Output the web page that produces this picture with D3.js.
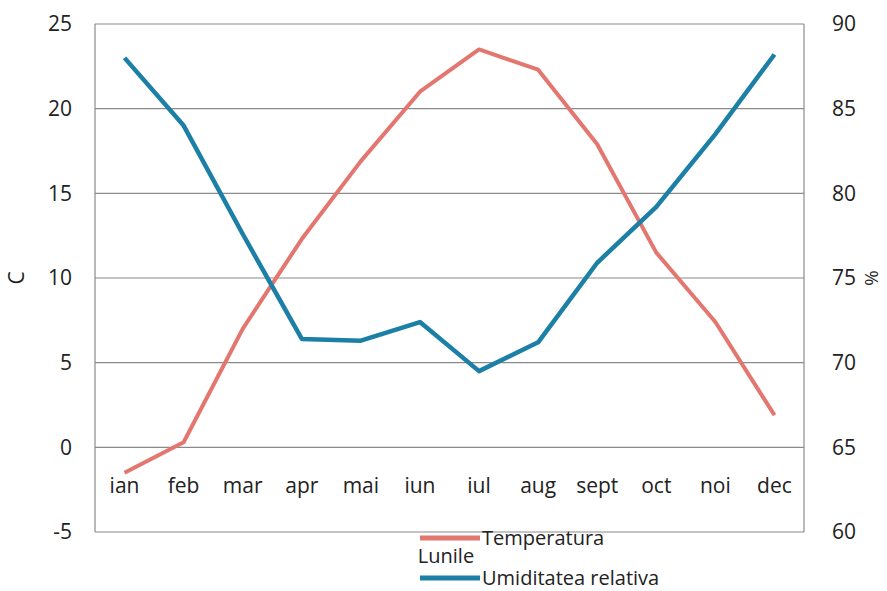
<!DOCTYPE html>
<html>
<head>
<meta charset="utf-8">
<script src="https://cdn.jsdelivr.net/npm/d3@7"></script>
<style>
  body { margin: 0; background: #fff; }
  svg text { font-family: "Open Sans", "Liberation Sans", sans-serif; fill: #222; }
</style>
</head>
<body>
<div id="chart"></div>
<script>
// data
const months = ["ian", "feb", "mar", "apr", "mai", "iun", "iul", "aug", "sept", "oct", "noi", "dec"];
const temperatura = [-1.5, 0.3, 7.0, 12.3, 16.9, 21.0, 23.5, 22.3, 17.9, 11.5, 7.4, 1.9];
const umiditate = [88.0, 84.0, 77.6, 71.4, 71.3, 72.4, 69.5, 71.2, 75.9, 79.2, 83.5, 88.2];
const leftTicks = [-5, 0, 5, 10, 15, 20, 25];
const rightTicks = [60, 65, 70, 75, 80, 85, 90];

const width = 887, height = 591;
const plot = {left: 95, right: 804, top: 24, bottom: 532};

const svg = d3.select("#chart")
    .append("svg")
    .attr("width", width)
    .attr("height", height);

let x = d3.scaleBand()
    .domain(months)
    .range([plot.left, plot.right]);

let yL = d3.scaleLinear().domain([-5, 25]).range([plot.bottom, plot.top]);
let yR = d3.scaleLinear().domain([60, 90]).range([plot.bottom, plot.top]);

// gridlines
svg.append("g")
    .selectAll("line")
    .data(leftTicks)
    .enter()
    .append("line")
    .attr("x1", plot.left)
    .attr("x2", plot.right)
    .attr("y1", d => yL(d))
    .attr("y2", d => yL(d))
    .attr("stroke", "#8a8a8a")
    .attr("stroke-width", 1.2);

// plot frame sides
svg.append("line")
    .attr("x1", plot.left).attr("x2", plot.left)
    .attr("y1", plot.top).attr("y2", plot.bottom)
    .attr("stroke", "#8a8a8a").attr("stroke-width", 1.2);
svg.append("line")
    .attr("x1", plot.right).attr("x2", plot.right)
    .attr("y1", plot.top).attr("y2", plot.bottom)
    .attr("stroke", "#8a8a8a").attr("stroke-width", 1.2);

// left axis labels (plain hyphen for negatives, as in the picture)
let leftAxis = svg.append("g")
    .attr("transform", `translate(${plot.left - 23}, 0)`)
    .call(d3.axisLeft(yL).tickValues(leftTicks).tickSize(0).tickPadding(0).tickFormat(d => String(d)));
leftAxis.select(".domain").remove();
leftAxis.selectAll("text").style("font-size", "21px").attr("fill", "#222");

// right axis labels
let rightAxis = svg.append("g")
    .attr("transform", `translate(${plot.right + 28}, 0)`)
    .call(d3.axisRight(yR).tickValues(rightTicks).tickSize(0).tickPadding(0).tickFormat(d => String(d)));
rightAxis.select(".domain").remove();
rightAxis.selectAll("text").style("font-size", "21px").attr("fill", "#222");

// month labels sit under the zero line
svg.append("g")
    .selectAll("text")
    .data(months)
    .enter()
    .append("text")
    .attr("x", d => x(d) + x.bandwidth() / 2)
    .attr("y", yL(0) + 46)
    .style("text-anchor", "middle")
    .style("font-size", "21px")
    .text(d => d);

// axis titles
svg.append("text")
    .attr("transform", `translate(24, ${yL(10)})rotate(-90)`)
    .style("text-anchor", "middle")
    .style("font-size", "21px")
    .text("C");

svg.append("text")
    .attr("transform", `translate(865, ${yR(75)})rotate(90)`)
    .style("text-anchor", "middle")
    .style("font-size", "19px")
    .text("%");

// lines
let lineL = d3.line()
    .x((d, i) => x(months[i]) + x.bandwidth() / 2)
    .y(d => yL(d));
let lineR = d3.line()
    .x((d, i) => x(months[i]) + x.bandwidth() / 2)
    .y(d => yR(d));

svg.append("path")
    .datum(temperatura)
    .attr("d", lineL)
    .attr("fill", "none")
    .attr("stroke", "#e3766f")
    .attr("stroke-width", 4)
    .attr("stroke-linejoin", "round");

svg.append("path")
    .datum(umiditate)
    .attr("d", lineR)
    .attr("fill", "none")
    .attr("stroke", "#1b7fa6")
    .attr("stroke-width", 4.5)
    .attr("stroke-linejoin", "round");

// legend + x title
const legend = [
    {name: "Temperatura", color: "#e3766f", y: 538},
    {name: "Umiditatea relativa", color: "#1b7fa6", y: 578}
];
let lg = svg.selectAll(".legend")
    .data(legend)
    .enter()
    .append("g")
    .attr("class", "legend");
lg.append("line")
    .attr("x1", 420).attr("x2", 480)
    .attr("y1", d => d.y).attr("y2", d => d.y)
    .attr("stroke", d => d.color)
    .attr("stroke-width", 5);
lg.append("text")
    .attr("x", 482)
    .attr("y", d => d.y + 7)
    .style("font-size", "20px")
    .text(d => d.name);

svg.append("text")
    .attr("x", 446)
    .attr("y", 563)
    .style("text-anchor", "middle")
    .style("font-size", "20px")
    .text("Lunile");
</script>
</body>
</html>
